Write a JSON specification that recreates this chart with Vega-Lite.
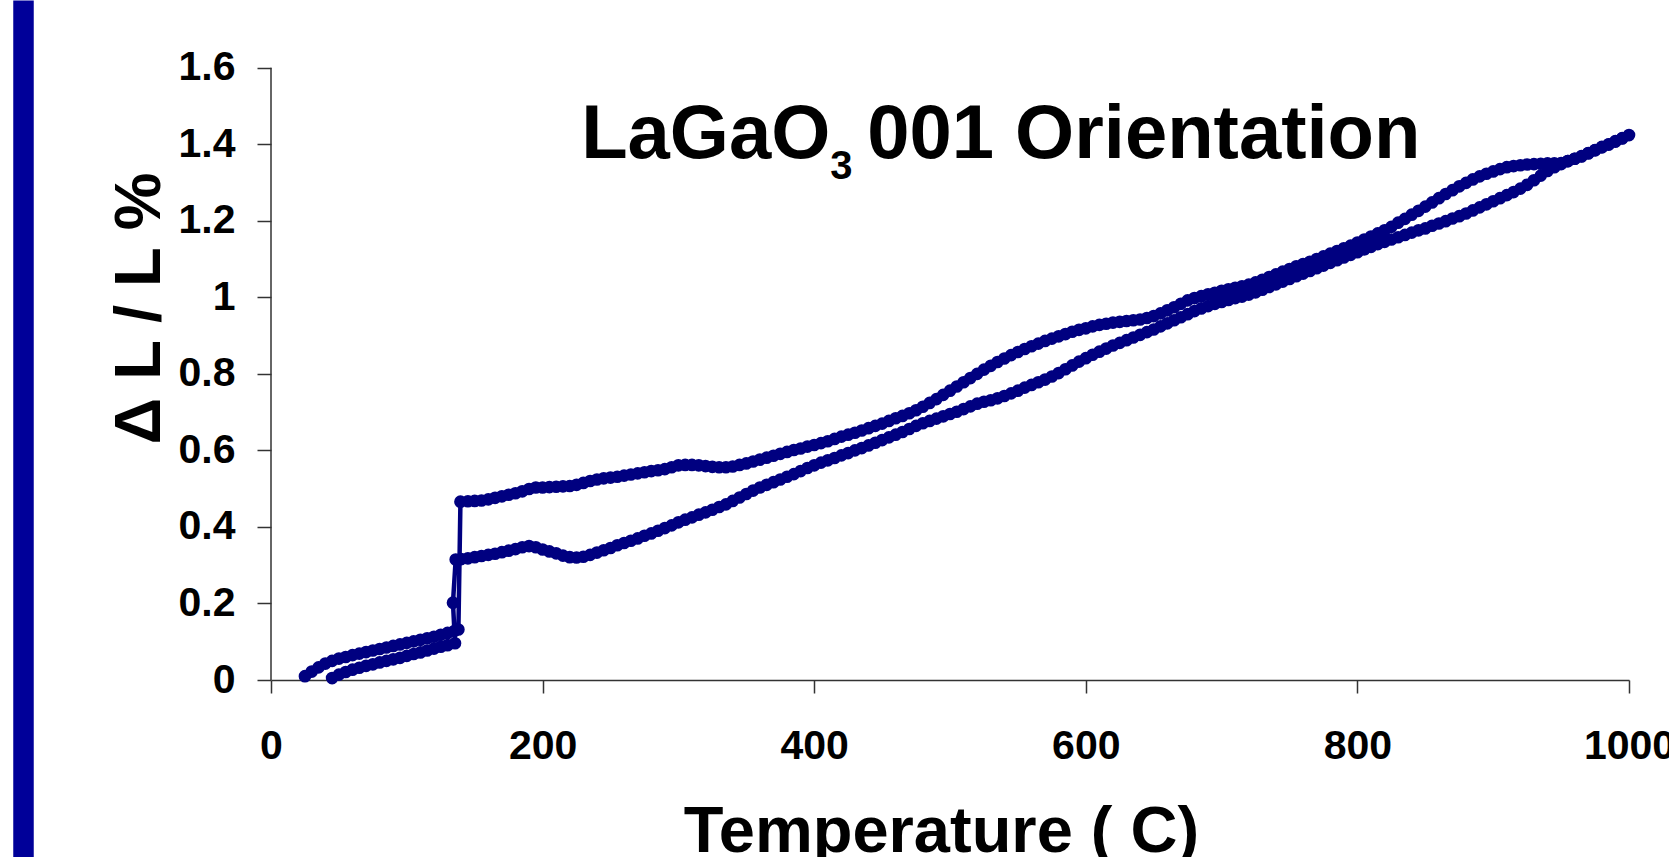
{
"$schema": "https://vega.github.io/schema/vega-lite/v6.json",
"autosize": "none",
"width": 1358,
"height": 857,
"padding": {"left": 271, "right": 40, "top": 0, "bottom": 0},
"background": "white",
"config": {"view": {"stroke": null}, "font": "Liberation Sans", "axis": {"grid": false}},
"datasets": {
"curve": [
{"T":25,"dL":0.010},{"T":30,"dL":0.022},{"T":35,"dL":0.033},{"T":40,"dL":0.043},{"T":45,"dL":0.050},{"T":50,"dL":0.056},{"T":55,"dL":0.060},{"T":60,"dL":0.065},{"T":65,"dL":0.069},{"T":70,"dL":0.073},{"T":75,"dL":0.077},{"T":80,"dL":0.081},{"T":85,"dL":0.085},{"T":90,"dL":0.089},{"T":95,"dL":0.093},{"T":100,"dL":0.097},{"T":105,"dL":0.101},{"T":110,"dL":0.105},{"T":115,"dL":0.109},{"T":120,"dL":0.113},{"T":125,"dL":0.118},{"T":130,"dL":0.123},{"T":135,"dL":0.128},{"T":138,"dL":0.132},{"T":139.5,"dL":0.466},
{"T":145,"dL":0.467},{"T":150,"dL":0.468},{"T":155,"dL":0.469},{"T":160,"dL":0.472},{"T":165,"dL":0.476},{"T":170,"dL":0.480},{"T":175,"dL":0.484},{"T":180,"dL":0.488},{"T":185,"dL":0.493},{"T":190,"dL":0.499},{"T":195,"dL":0.503},{"T":200,"dL":0.503},{"T":205,"dL":0.504},{"T":210,"dL":0.505},{"T":215,"dL":0.506},{"T":220,"dL":0.507},{"T":225,"dL":0.510},{"T":230,"dL":0.515},{"T":235,"dL":0.520},{"T":240,"dL":0.524},{"T":245,"dL":0.527},{"T":250,"dL":0.529},{"T":255,"dL":0.531},{"T":260,"dL":0.534},{"T":265,"dL":0.537},{"T":270,"dL":0.540},{"T":275,"dL":0.543},{"T":280,"dL":0.546},{"T":285,"dL":0.548},{"T":290,"dL":0.551},{"T":295,"dL":0.556},{"T":300,"dL":0.561},{"T":305,"dL":0.562},{"T":310,"dL":0.562},{"T":315,"dL":0.561},{"T":320,"dL":0.559},{"T":325,"dL":0.557},{"T":330,"dL":0.556},{"T":335,"dL":0.556},{"T":340,"dL":0.558},{"T":345,"dL":0.562},{"T":350,"dL":0.566},{"T":355,"dL":0.571},{"T":360,"dL":0.576},{"T":365,"dL":0.581},{"T":370,"dL":0.586},{"T":375,"dL":0.591},{"T":380,"dL":0.596},{"T":385,"dL":0.601},{"T":390,"dL":0.605},{"T":395,"dL":0.610},{"T":400,"dL":0.614},{"T":405,"dL":0.619},{"T":410,"dL":0.624},{"T":415,"dL":0.630},{"T":420,"dL":0.636},{"T":425,"dL":0.641},{"T":430,"dL":0.646},{"T":435,"dL":0.652},{"T":440,"dL":0.658},{"T":445,"dL":0.664},{"T":450,"dL":0.670},{"T":455,"dL":0.677},{"T":460,"dL":0.684},{"T":465,"dL":0.690},{"T":470,"dL":0.697},{"T":475,"dL":0.705},{"T":480,"dL":0.714},{"T":485,"dL":0.724},{"T":490,"dL":0.734},{"T":495,"dL":0.745},{"T":500,"dL":0.756},{"T":505,"dL":0.767},{"T":510,"dL":0.778},{"T":515,"dL":0.789},{"T":520,"dL":0.800},{"T":525,"dL":0.811},{"T":530,"dL":0.821},{"T":535,"dL":0.831},{"T":540,"dL":0.840},{"T":545,"dL":0.849},{"T":550,"dL":0.857},{"T":555,"dL":0.865},{"T":560,"dL":0.872},{"T":565,"dL":0.879},{"T":570,"dL":0.886},{"T":575,"dL":0.892},{"T":580,"dL":0.898},{"T":585,"dL":0.904},{"T":590,"dL":0.910},{"T":595,"dL":0.915},{"T":600,"dL":0.919},{"T":605,"dL":0.924},{"T":610,"dL":0.928},{"T":615,"dL":0.931},{"T":620,"dL":0.934},{"T":625,"dL":0.936},{"T":630,"dL":0.938},{"T":635,"dL":0.940},{"T":640,"dL":0.942},{"T":645,"dL":0.946},{"T":650,"dL":0.951},{"T":655,"dL":0.958},{"T":660,"dL":0.966},{"T":665,"dL":0.974},{"T":670,"dL":0.983},{"T":675,"dL":0.992},{"T":680,"dL":0.998},{"T":685,"dL":1.003},{"T":690,"dL":1.008},{"T":695,"dL":1.012},{"T":700,"dL":1.017},{"T":705,"dL":1.021},{"T":710,"dL":1.025},{"T":715,"dL":1.029},{"T":720,"dL":1.033},{"T":725,"dL":1.039},{"T":730,"dL":1.046},{"T":735,"dL":1.053},{"T":740,"dL":1.060},{"T":745,"dL":1.067},{"T":750,"dL":1.074},{"T":755,"dL":1.081},{"T":760,"dL":1.087},{"T":765,"dL":1.093},{"T":770,"dL":1.100},{"T":775,"dL":1.107},{"T":780,"dL":1.114},{"T":785,"dL":1.121},{"T":790,"dL":1.128},{"T":795,"dL":1.135},{"T":800,"dL":1.143},{"T":805,"dL":1.151},{"T":810,"dL":1.159},{"T":815,"dL":1.167},{"T":820,"dL":1.175},{"T":825,"dL":1.184},{"T":830,"dL":1.195},{"T":835,"dL":1.205},{"T":840,"dL":1.216},{"T":845,"dL":1.226},{"T":850,"dL":1.237},{"T":855,"dL":1.248},{"T":860,"dL":1.259},{"T":865,"dL":1.270},{"T":870,"dL":1.280},{"T":875,"dL":1.290},{"T":880,"dL":1.299},{"T":885,"dL":1.308},{"T":890,"dL":1.316},{"T":895,"dL":1.323},{"T":900,"dL":1.329},{"T":905,"dL":1.335},{"T":910,"dL":1.340},{"T":915,"dL":1.343},{"T":920,"dL":1.345},{"T":925,"dL":1.347},{"T":930,"dL":1.348},{"T":935,"dL":1.349},{"T":940,"dL":1.350},{"T":945,"dL":1.350},{"T":950,"dL":1.351},{"T":955,"dL":1.356},{"T":960,"dL":1.362},{"T":965,"dL":1.368},{"T":970,"dL":1.376},{"T":975,"dL":1.384},{"T":980,"dL":1.392},{"T":985,"dL":1.399},{"T":990,"dL":1.407},{"T":995,"dL":1.415},{"T":1000,"dL":1.424},
{"T":995,"dL":1.416},{"T":990,"dL":1.408},{"T":985,"dL":1.400},{"T":980,"dL":1.393},{"T":975,"dL":1.385},{"T":970,"dL":1.377},{"T":965,"dL":1.369},{"T":960,"dL":1.362},{"T":955,"dL":1.356},{"T":950,"dL":1.348},{"T":945,"dL":1.340},{"T":940,"dL":1.330},{"T":935,"dL":1.318},{"T":930,"dL":1.306},{"T":925,"dL":1.294},{"T":920,"dL":1.284},{"T":915,"dL":1.275},{"T":910,"dL":1.267},{"T":905,"dL":1.259},{"T":900,"dL":1.251},{"T":895,"dL":1.243},{"T":890,"dL":1.235},{"T":885,"dL":1.227},{"T":880,"dL":1.219},{"T":875,"dL":1.212},{"T":870,"dL":1.206},{"T":865,"dL":1.199},{"T":860,"dL":1.193},{"T":855,"dL":1.187},{"T":850,"dL":1.180},{"T":845,"dL":1.175},{"T":840,"dL":1.169},{"T":835,"dL":1.163},{"T":830,"dL":1.157},{"T":825,"dL":1.151},{"T":820,"dL":1.145},{"T":815,"dL":1.139},{"T":810,"dL":1.132},{"T":805,"dL":1.125},{"T":800,"dL":1.118},{"T":795,"dL":1.111},{"T":790,"dL":1.104},{"T":785,"dL":1.097},{"T":780,"dL":1.090},{"T":775,"dL":1.083},{"T":770,"dL":1.076},{"T":765,"dL":1.069},{"T":760,"dL":1.062},{"T":755,"dL":1.055},{"T":750,"dL":1.048},{"T":745,"dL":1.041},{"T":740,"dL":1.034},{"T":735,"dL":1.027},{"T":730,"dL":1.020},{"T":725,"dL":1.013},{"T":720,"dL":1.007},{"T":715,"dL":1.002},{"T":710,"dL":0.998},{"T":705,"dL":0.993},{"T":700,"dL":0.988},{"T":695,"dL":0.983},{"T":690,"dL":0.977},{"T":685,"dL":0.971},{"T":680,"dL":0.964},{"T":675,"dL":0.956},{"T":670,"dL":0.948},{"T":665,"dL":0.940},{"T":660,"dL":0.932},{"T":655,"dL":0.924},{"T":650,"dL":0.916},{"T":645,"dL":0.909},{"T":640,"dL":0.902},{"T":635,"dL":0.895},{"T":630,"dL":0.888},{"T":625,"dL":0.881},{"T":620,"dL":0.874},{"T":615,"dL":0.866},{"T":610,"dL":0.858},{"T":605,"dL":0.850},{"T":600,"dL":0.841},{"T":595,"dL":0.832},{"T":590,"dL":0.822},{"T":585,"dL":0.812},{"T":580,"dL":0.802},{"T":575,"dL":0.793},{"T":570,"dL":0.785},{"T":565,"dL":0.778},{"T":560,"dL":0.771},{"T":555,"dL":0.764},{"T":550,"dL":0.756},{"T":545,"dL":0.749},{"T":540,"dL":0.742},{"T":535,"dL":0.736},{"T":530,"dL":0.731},{"T":525,"dL":0.727},{"T":520,"dL":0.722},{"T":515,"dL":0.715},{"T":510,"dL":0.708},{"T":505,"dL":0.701},{"T":500,"dL":0.695},{"T":495,"dL":0.689},{"T":490,"dL":0.683},{"T":485,"dL":0.677},{"T":480,"dL":0.671},{"T":475,"dL":0.664},{"T":470,"dL":0.656},{"T":465,"dL":0.648},{"T":460,"dL":0.641},{"T":455,"dL":0.634},{"T":450,"dL":0.627},{"T":445,"dL":0.620},{"T":440,"dL":0.613},{"T":435,"dL":0.606},{"T":430,"dL":0.600},{"T":425,"dL":0.593},{"T":420,"dL":0.587},{"T":415,"dL":0.580},{"T":410,"dL":0.574},{"T":405,"dL":0.568},{"T":400,"dL":0.561},{"T":395,"dL":0.554},{"T":390,"dL":0.546},{"T":385,"dL":0.538},{"T":380,"dL":0.531},{"T":375,"dL":0.524},{"T":370,"dL":0.517},{"T":365,"dL":0.510},{"T":360,"dL":0.503},{"T":355,"dL":0.495},{"T":350,"dL":0.486},{"T":345,"dL":0.477},{"T":340,"dL":0.468},{"T":335,"dL":0.459},{"T":330,"dL":0.452},{"T":325,"dL":0.445},{"T":320,"dL":0.438},{"T":315,"dL":0.432},{"T":310,"dL":0.425},{"T":305,"dL":0.419},{"T":300,"dL":0.412},{"T":295,"dL":0.404},{"T":290,"dL":0.397},{"T":285,"dL":0.390},{"T":280,"dL":0.383},{"T":275,"dL":0.377},{"T":270,"dL":0.370},{"T":265,"dL":0.364},{"T":260,"dL":0.358},{"T":255,"dL":0.352},{"T":250,"dL":0.345},{"T":245,"dL":0.339},{"T":240,"dL":0.333},{"T":235,"dL":0.327},{"T":230,"dL":0.322},{"T":225,"dL":0.320},{"T":220,"dL":0.321},{"T":215,"dL":0.325},{"T":210,"dL":0.331},{"T":205,"dL":0.336},{"T":200,"dL":0.341},{"T":195,"dL":0.347},{"T":190,"dL":0.350},{"T":185,"dL":0.347},{"T":180,"dL":0.342},{"T":175,"dL":0.338},{"T":170,"dL":0.334},{"T":165,"dL":0.330},{"T":160,"dL":0.327},{"T":155,"dL":0.324},{"T":150,"dL":0.321},{"T":145,"dL":0.318},{"T":140,"dL":0.316},{"T":136,"dL":0.315},{"T":134,"dL":0.202},{"T":135.5,"dL":0.096},
{"T":130,"dL":0.091},{"T":125,"dL":0.087},{"T":120,"dL":0.082},{"T":115,"dL":0.077},{"T":110,"dL":0.072},{"T":105,"dL":0.068},{"T":100,"dL":0.063},{"T":95,"dL":0.058},{"T":90,"dL":0.054},{"T":85,"dL":0.050},{"T":80,"dL":0.046},{"T":75,"dL":0.041},{"T":70,"dL":0.037},{"T":65,"dL":0.032},{"T":60,"dL":0.027},{"T":55,"dL":0.021},{"T":50,"dL":0.014},{"T":45,"dL":0.005}
],
"axisline": [{"T": 0, "from": 0, "to": 1.6}],
"heading": [{"T": 228.4, "dL": 1.3632}]
},
"layer": [
  {"data": {"name": "curve"},
   "mark": {"type": "line", "color": "#000080", "strokeWidth": 4.5},
   "encoding": {
     "order": {"value": null},
     "x": {"field": "T", "type": "quantitative", "scale": {"domain": [0, 1000], "nice": false, "zero": false},
       "axis": {"values": [0, 200, 400, 600, 800, 1000], "format": "d", "offset": -177,
         "domainColor": "#333333", "domainWidth": 1.5, "tickColor": "#333333", "tickWidth": 1.5, "tickSize": 13,
         "labelFont": "Liberation Sans", "labelFontSize": 41, "labelFontWeight": "bold", "labelColor": "#000000",
         "labelPadding": 33, "labelFlush": false, "labelOverlap": false,
         "title": "Temperature ( C)", "titleFont": "Liberation Sans", "titleFontSize": 65, "titleFontWeight": "bold",
         "titleColor": "#000000", "titleX": 670, "titleY": 171, "titleBaseline": "alphabetic", "titleAlign": "center"}},
     "y": {"field": "dL", "type": "quantitative", "scale": {"domain": [-0.4625, 1.7769], "nice": false, "zero": false},
       "axis": {"orient": "left", "values": [0, 0.2, 0.4, 0.6, 0.8, 1, 1.2, 1.4, 1.6], "format": "~g", "domain": false,
         "tickSize": 14, "tickWidth": 1.5, "tickColor": "#333333",
         "labelFont": "Liberation Sans", "labelFontSize": 41, "labelFontWeight": "bold", "labelColor": "#000000", "labelPadding": 22,
         "title": "Δ L / L %", "titleFont": "Liberation Sans", "titleFontSize": 65, "titleFontWeight": "bold", "titleColor": "#000000",
         "titleAngle": 270, "titleAlign": "center", "titleBaseline": "alphabetic", "titleX": -111.7, "titleY": 308}}}},
  {"data": {"name": "curve"},
   "mark": {"type": "point", "filled": true, "color": "#000080", "size": 160, "opacity": 1, "strokeWidth": 0},
   "encoding": {
     "x": {"field": "T", "type": "quantitative"},
     "y": {"field": "dL", "type": "quantitative", "axis": null}}},
  {"data": {"name": "axisline"},
   "mark": {"type": "rule", "color": "#333333", "strokeWidth": 1.5},
   "encoding": {
     "x": {"field": "T", "type": "quantitative"},
     "y": {"field": "from", "type": "quantitative", "axis": {"orient": "left", "offset": 248, "domainWidth": 20.5, "domainColor": "#000099",
        "ticks": false, "labels": false, "title": null, "grid": false}},
     "y2": {"field": "to"}}},
  {"data": {"name": "heading"},
   "mark": {"type": "text", "font": "Liberation Sans", "fontWeight": "bold", "fontSize": 76, "align": "left", "baseline": "alphabetic", "color": "#000000"},
   "encoding": {
     "x": {"field": "T", "type": "quantitative"},
     "y": {"field": "dL", "type": "quantitative", "axis": null},
     "text": {"value": "LaGaO"}}},
  {"data": {"name": "heading"},
   "mark": {"type": "text", "font": "Liberation Sans", "fontWeight": "bold", "fontSize": 40, "align": "left", "baseline": "alphabetic", "color": "#000000", "dx": 249, "dy": 21},
   "encoding": {
     "x": {"field": "T", "type": "quantitative"},
     "y": {"field": "dL", "type": "quantitative", "axis": null},
     "text": {"value": "3"}}},
  {"data": {"name": "heading"},
   "mark": {"type": "text", "font": "Liberation Sans", "fontWeight": "bold", "fontSize": 76, "align": "left", "baseline": "alphabetic", "color": "#000000", "dx": 286},
   "encoding": {
     "x": {"field": "T", "type": "quantitative"},
     "y": {"field": "dL", "type": "quantitative", "axis": null},
     "text": {"value": "001 Orientation"}}}
],
"resolve": {"axis": {"y": "independent"}}
}
